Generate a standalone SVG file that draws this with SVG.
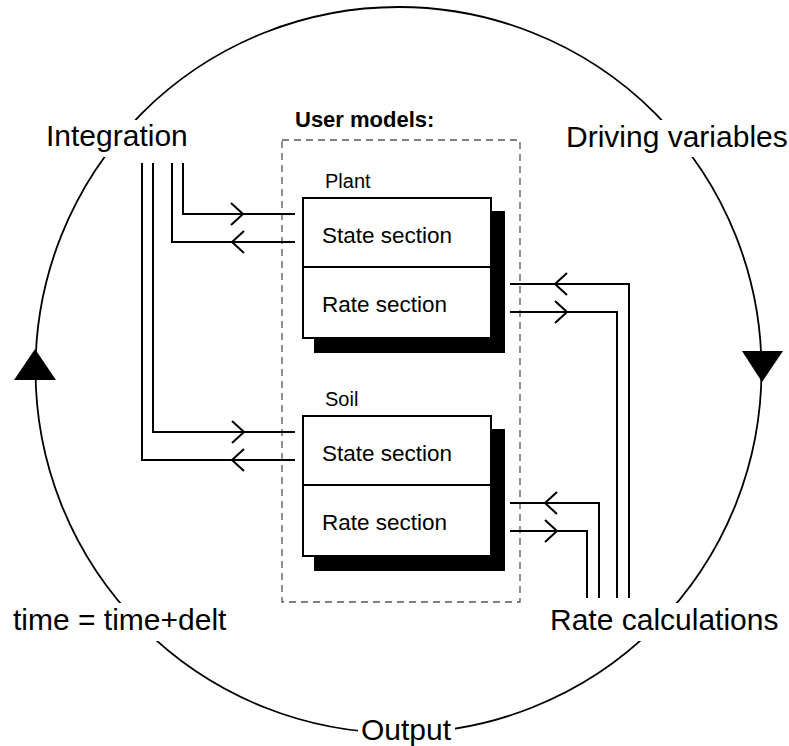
<svg xmlns="http://www.w3.org/2000/svg" xmlns:xlink="http://www.w3.org/1999/xlink" width="789" height="746" viewBox="0 0 789 746">
  <style>
    .lbl { font-family: "Liberation Sans", Arial, sans-serif; font-size: 30px; fill: #000; }
    .sec { font-family: "Liberation Sans", Arial, sans-serif; font-size: 22.5px; fill: #000; }
    .name { font-family: "Liberation Sans", Arial, sans-serif; font-size: 20px; fill: #000; }
    .title { font-family: "Liberation Sans", Arial, sans-serif; font-size: 22px; font-weight: bold; fill: #000; }
    .wire { fill: none; stroke: #000; stroke-width: 2; }
    .box { fill: #fff; stroke: #000; stroke-width: 2; }
    .shadow { fill: #000; }
    .bg { fill: #fff; }
  </style>
  <defs>
    <path id="chevR" d="M-12,-11 L0,0 L-12,11" fill="none" stroke="#000" stroke-width="2"/>
    <path id="chevL" d="M12,-11 L0,0 L12,11" fill="none" stroke="#000" stroke-width="2"/>
  </defs>
  <rect width="789" height="746" fill="#fff"/>

  <g id="cycle">
    <circle cx="398.5" cy="370" r="363" fill="none" stroke="#000" stroke-width="1.8"/>
    <polygon points="35,349 14,380 56,380" fill="#000"/>
    <polygon points="742,351 783,351 762,382" fill="#000"/>
  </g>

  <g id="integration">
    <rect class="bg" x="42" y="120" width="152" height="37"/>
    <text class="lbl" x="46" y="146">Integration</text>
  </g>
  <g id="driving">
    <rect class="bg" x="562" y="120" width="227" height="37"/>
    <text class="lbl" x="566" y="147">Driving variables</text>
  </g>
  <g id="time">
    <rect class="bg" x="8" y="603" width="226" height="38"/>
    <text class="lbl" x="13" y="630">time = time+delt</text>
  </g>
  <g id="ratecalc">
    <rect class="bg" x="546" y="603" width="238" height="38"/>
    <text class="lbl" x="550" y="630">Rate calculations</text>
  </g>
  <g id="output">
    <rect class="bg" x="358" y="714" width="97" height="32"/>
    <text class="lbl" x="361" y="740">Output</text>
  </g>

  <g id="usermodels">
    <text class="title" x="295" y="127">User models:</text>
    <rect x="282" y="140" width="238" height="462" fill="none" stroke="#555" stroke-width="1.3" stroke-dasharray="7,5"/>
  </g>

  <g id="plant">
    <text class="name" x="325" y="188">Plant</text>
    <rect class="shadow" x="314" y="211" width="191" height="142"/>
    <rect class="box" x="303" y="198" width="188" height="140"/>
    <line x1="303" y1="267" x2="491" y2="267" stroke="#000" stroke-width="2"/>
    <text class="sec" x="322" y="243">State section</text>
    <text class="sec" x="322" y="312">Rate section</text>
  </g>

  <g id="soil">
    <text class="name" x="325" y="406">Soil</text>
    <rect class="shadow" x="314" y="429" width="191" height="142"/>
    <rect class="box" x="303" y="416" width="188" height="140"/>
    <line x1="303" y1="485" x2="491" y2="485" stroke="#000" stroke-width="2"/>
    <text class="sec" x="322" y="461">State section</text>
    <text class="sec" x="322" y="530">Rate section</text>
  </g>

  <g id="connectors">
    <polyline class="wire" points="183,163 183,214 295,214"/>
    <polyline class="wire" points="172,163 172,242 295,242"/>
    <polyline class="wire" points="153,163 153,432 295,432"/>
    <polyline class="wire" points="142,163 142,460 295,460"/>
    <use xlink:href="#chevR" x="243" y="214"/>
    <use xlink:href="#chevL" x="232" y="242"/>
    <use xlink:href="#chevR" x="244" y="432"/>
    <use xlink:href="#chevL" x="232" y="460"/>

    <polyline class="wire" points="510,284 629,284 629,598"/>
    <polyline class="wire" points="510,312 617,312 617,598"/>
    <polyline class="wire" points="510,503 599,503 599,598"/>
    <polyline class="wire" points="510,531 587,531 587,598"/>
    <use xlink:href="#chevL" x="555" y="284"/>
    <use xlink:href="#chevR" x="567" y="312"/>
    <use xlink:href="#chevL" x="545" y="503"/>
    <use xlink:href="#chevR" x="557" y="531"/>
  </g>
</svg>
